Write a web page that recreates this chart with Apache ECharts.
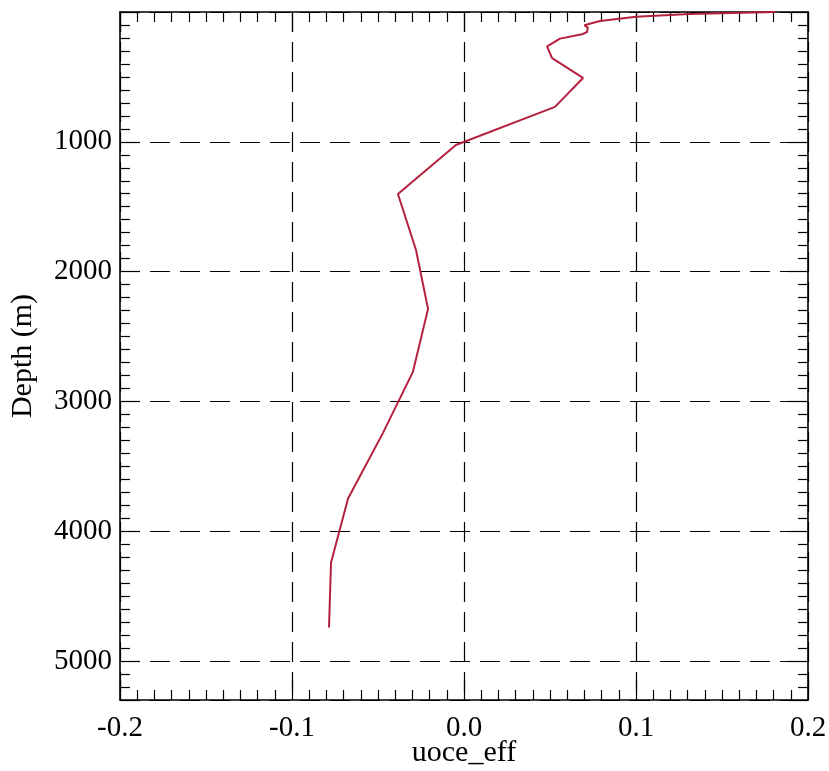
<!DOCTYPE html>
<html>
<head>
<meta charset="utf-8">
<script src="https://cdn.jsdelivr.net/npm/echarts@6/dist/echarts.min.js"></script>
<style>
html,body{margin:0;padding:0;background:#fff;}
#chart{width:829px;height:771px;}
</style>
</head>
<body>
<div id="chart"></div>
<script>
// Profile values
const uoceEff = [0.181, 0.131, 0.100, 0.079, 0.072, 0.070, 0.072, 0.0715, 0.0686, 0.0558, 0.0483, 0.0512, 0.0692, 0.0529, -0.0047, -0.0384, -0.0279, -0.0209, -0.0297, -0.0471, -0.0674, -0.0773, -0.0785];
const depth   = [0, 15, 36, 69, 95, 102, 120, 154, 172, 205, 264, 356, 508, 731, 1025, 1402, 1833, 2287, 2772, 3242, 3748, 4241, 4741];
const xTicks = [-0.2, -0.1, 0.0, 0.1, 0.2];
const yTicks = [1000, 2000, 3000, 4000, 5000];

const FONT = 'Liberation Serif';
const chart = echarts.init(document.getElementById('chart'), null, {renderer: 'canvas'});

const axisLineStyle = {color: '#000', width: 1.6};
const gridStyle = {show: true, lineStyle: {color: '#000', width: 1.2, type: [20, 10]}};

const xBase = {
  type: 'value', min: -0.2, max: 0.2, interval: 0.1,
  axisLine: {show: true, onZero: false, lineStyle: axisLineStyle},
  axisTick: {show: true, inside: true, length: 20, lineStyle: {color: '#000', width: 1.2}},
  minorTick: {show: true, splitNumber: 10, length: 10, lineStyle: {color: '#000', width: 1.2}},
  minorSplitLine: {show: false}
};
const yBase = {
  type: 'value', min: 0, max: 5300, interval: 1000, inverse: true,
  axisLine: {show: true, onZero: false, lineStyle: axisLineStyle},
  axisTick: {show: true, inside: true, length: 20, lineStyle: {color: '#000', width: 1.2}},
  minorTick: {show: true, splitNumber: 10, length: 10, lineStyle: {color: '#000', width: 1.2}},
  minorSplitLine: {show: false}
};

chart.setOption({
  animation: false,
  backgroundColor: '#fff',
  grid: {left: 120, right: 21, top: 12, bottom: 71, containLabel: false, outerBoundsMode: 'none'},
  xAxis: [
    Object.assign({}, xBase, {
      position: 'bottom',
      name: 'uoce_eff', nameLocation: 'middle', nameGap: 38, nameMoveOverlap: false,
      nameTextStyle: {fontFamily: FONT, fontSize: 30, color: '#000'},
      axisLabel: {
        show: true, margin: 14, fontFamily: FONT, fontSize: 29, color: '#000',
        formatter: v => {
          const t = xTicks.find(k => Math.abs(k - v) < 1e-9);
          return t === undefined ? '' : t.toFixed(1);
        }
      },
      splitLine: gridStyle
    }),
    Object.assign({}, xBase, {
      position: 'top',
      axisLabel: {show: false},
      splitLine: {show: false}
    })
  ],
  yAxis: [
    Object.assign({}, yBase, {
      position: 'left',
      name: 'Depth (m)', nameLocation: 'middle', nameGap: 82, nameRotate: 90, nameMoveOverlap: false,
      nameTextStyle: {fontFamily: FONT, fontSize: 30, color: '#000'},
      axisLabel: {
        show: true, margin: 8, fontFamily: FONT, fontSize: 29, color: '#000',
        formatter: v => yTicks.indexOf(v) >= 0 ? String(v) : ''
      },
      splitLine: {show: true, lineStyle: {color: '#000', width: 1.2, type: [20, 10]}}
    }),
    Object.assign({}, yBase, {
      position: 'right',
      axisLabel: {show: false},
      splitLine: {show: false}
    })
  ],
  series: [{
    type: 'line',
    xAxisIndex: 0, yAxisIndex: 0,
    data: uoceEff.map((u, i) => [u, depth[i]]),
    showSymbol: false,
    symbol: 'none',
    lineStyle: {color: '#b4213f', width: 2},
    z: 5
  }]
});
</script>
</body>
</html>
